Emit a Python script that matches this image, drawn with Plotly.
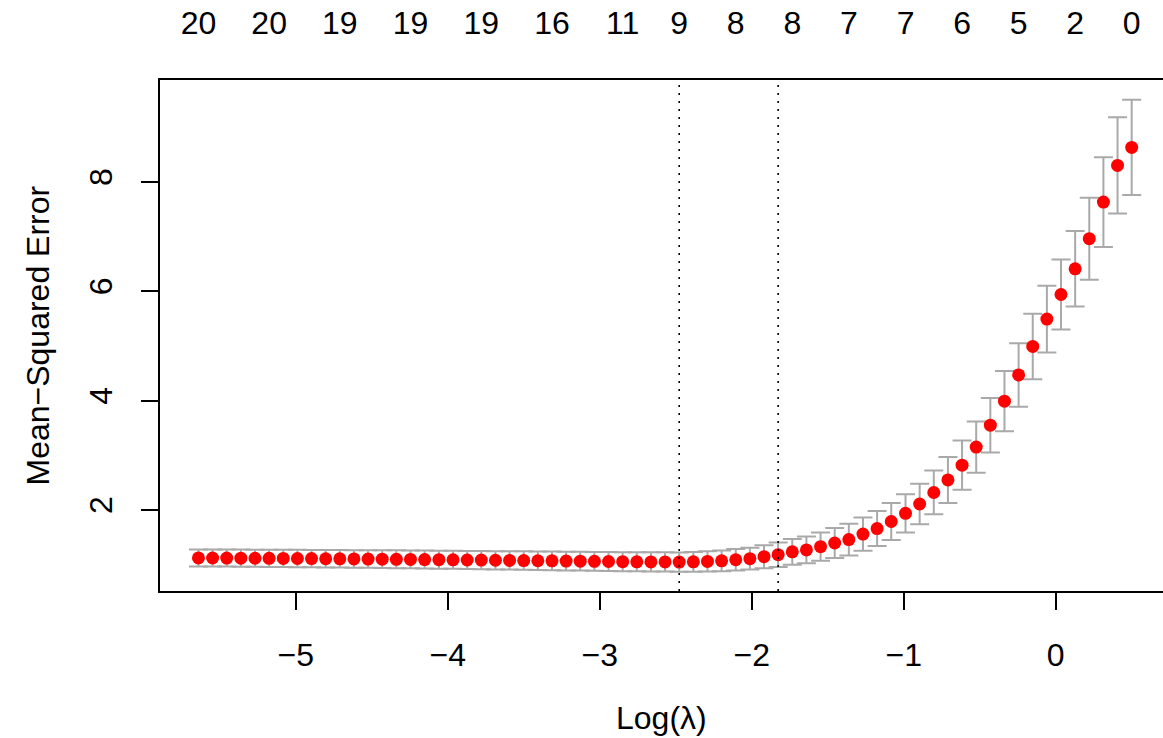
import plotly.graph_objects as go

# Cross-validated lasso path: log(lambda) grid (largest lambda first)
log_lambda = [
    0.500, 0.407, 0.314, 0.221, 0.128, 0.035, -0.058, -0.151, -0.244, -0.337,
    -0.430, -0.523, -0.616, -0.709, -0.802, -0.895, -0.988, -1.082, -1.175, -1.268,
    -1.361, -1.454, -1.547, -1.640, -1.733, -1.826, -1.919, -2.012, -2.105, -2.198,
    -2.291, -2.384, -2.477, -2.570, -2.663, -2.756, -2.849, -2.942, -3.035, -3.128,
    -3.221, -3.314, -3.407, -3.500, -3.593, -3.686, -3.779, -3.872, -3.965, -4.058,
    -4.152, -4.245, -4.338, -4.431, -4.524, -4.617, -4.710, -4.803, -4.896, -4.989,
    -5.082, -5.175, -5.268, -5.361, -5.454, -5.547, -5.640,
]

# Mean cross-validated error at each lambda
cv_mean = [
    8.63, 8.30, 7.63, 6.96, 6.41, 5.94, 5.49, 4.99, 4.47, 3.99,
    3.55, 3.15, 2.82, 2.55, 2.32, 2.11, 1.94, 1.79, 1.66, 1.56,
    1.46, 1.397, 1.33, 1.27, 1.235, 1.183, 1.146, 1.11, 1.09, 1.07,
    1.06, 1.052, 1.048, 1.050, 1.051, 1.053, 1.055, 1.058, 1.061, 1.064,
    1.067, 1.070, 1.072, 1.075, 1.078, 1.081, 1.084, 1.086, 1.089, 1.091,
    1.094, 1.096, 1.099, 1.101, 1.103, 1.105, 1.107, 1.109, 1.111, 1.113,
    1.115, 1.117, 1.118, 1.120, 1.121, 1.122, 1.123,
]

# Standard error of the cross-validated error
cv_se = [
    0.87, 0.88, 0.82, 0.75, 0.69, 0.64, 0.61, 0.60, 0.58, 0.55,
    0.50, 0.47, 0.45, 0.42, 0.40, 0.37, 0.35, 0.34, 0.32, 0.305,
    0.29, 0.275, 0.26, 0.245, 0.235, 0.225, 0.21, 0.20, 0.195, 0.19,
    0.185, 0.180, 0.177, 0.176, 0.175, 0.174, 0.174, 0.173, 0.172, 0.172,
    0.171, 0.170, 0.169, 0.169, 0.168, 0.167, 0.167, 0.166, 0.165, 0.165,
    0.164, 0.163, 0.163, 0.162, 0.161, 0.161, 0.160, 0.160, 0.159, 0.159,
    0.158, 0.158, 0.157, 0.157, 0.156, 0.156, 0.155,
]

# Number of non-zero coefficients, labelled along the top axis
top_idx = [0, 4, 8, 12, 16, 20, 24, 28, 32, 36, 41, 46, 51, 56, 61, 66]
top_nz = [0, 2, 5, 6, 7, 7, 8, 8, 9, 11, 16, 19, 19, 19, 20, 20]

x_ticks = [-5, -4, -3, -2, -1, 0]
y_ticks = [2, 4, 6, 8]

# lambda.min and lambda.1se
i_min = min(range(len(cv_mean)), key=lambda i: cv_mean[i])
threshold = cv_mean[i_min] + cv_se[i_min]
i_1se = min(i for i in range(len(cv_mean)) if cv_mean[i] <= threshold)

FONT = "Liberation Sans, Arial, Helvetica, sans-serif"
FS = 32

fig = go.Figure()

fig.add_trace(go.Scatter(
    x=log_lambda, y=cv_mean, mode="markers",
    marker=dict(color="#ff0000", size=13, line=dict(width=0)),
    error_y=dict(type="data", array=cv_se, color="#a9a9a9", thickness=2, width=9.5),
    showlegend=False, hoverinfo="x+y",
))

top_x = [log_lambda[i] for i in top_idx]
fig.add_trace(go.Scatter(
    x=top_x, y=[cv_mean[i] for i in top_idx], xaxis="x2", mode="markers",
    marker=dict(opacity=0), showlegend=False, hoverinfo="skip",
))

for i in (i_min, i_1se):
    fig.add_shape(type="line", xref="x", yref="paper", x0=log_lambda[i], x1=log_lambda[i],
                  y0=0, y1=1, line=dict(color="black", width=1.6, dash="2px,6px"))

x_range = [-5.893, 0.706]
y_range = [0.519, 9.862]

fig.update_layout(
    width=1163, height=738,
    margin=dict(l=160, r=0, t=80, b=147, pad=0),
    paper_bgcolor="white", plot_bgcolor="white",
    font=dict(family=FONT, size=FS, color="black"),
    xaxis=dict(
        range=x_range, tickmode="array", tickvals=x_ticks,
        ticktext=[("\u2212" + str(-v)) if v < 0 else str(v) for v in x_ticks],
        ticks="outside", ticklen=17, tickwidth=2, tickcolor="black",
        showline=True, linewidth=2, linecolor="black", mirror=False,
        showgrid=False, zeroline=False, ticklabelstandoff=18,
        tickfont=dict(family=FONT, size=FS, color="black"),
    ),
    xaxis2=dict(
        overlaying="x", side="top", range=x_range, matches="x",
        tickmode="array", tickvals=top_x, ticktext=[str(v) for v in top_nz],
        ticks="", showline=True, linewidth=2, linecolor="black",
        showgrid=False, zeroline=False, ticklabelstandoff=31,
        tickfont=dict(family=FONT, size=FS, color="black"),
    ),
    yaxis=dict(
        range=y_range, tickmode="array", tickvals=y_ticks,
        ticktext=[str(v) for v in y_ticks], tickangle=-90,
        ticks="outside", ticklen=17, tickwidth=2, tickcolor="black",
        showline=True, linewidth=2, linecolor="black", mirror=False,
        showgrid=False, zeroline=False, ticklabelstandoff=16,
        tickfont=dict(family=FONT, size=FS, color="black"),
    ),
    annotations=[
        dict(text="Log(\u03bb)", xref="paper", yref="paper", x=0.5, y=0,
             xanchor="center", yanchor="middle", yshift=-127, showarrow=False,
             font=dict(family=FONT, size=FS, color="black")),
        dict(text="Mean\u2212Squared Error", xref="paper", yref="paper", x=0, y=0.5,
             xanchor="center", yanchor="middle", xshift=-123, textangle=-90,
             showarrow=False, font=dict(family=FONT, size=FS, color="black")),
    ],
)

fig.write_html("out.html")
